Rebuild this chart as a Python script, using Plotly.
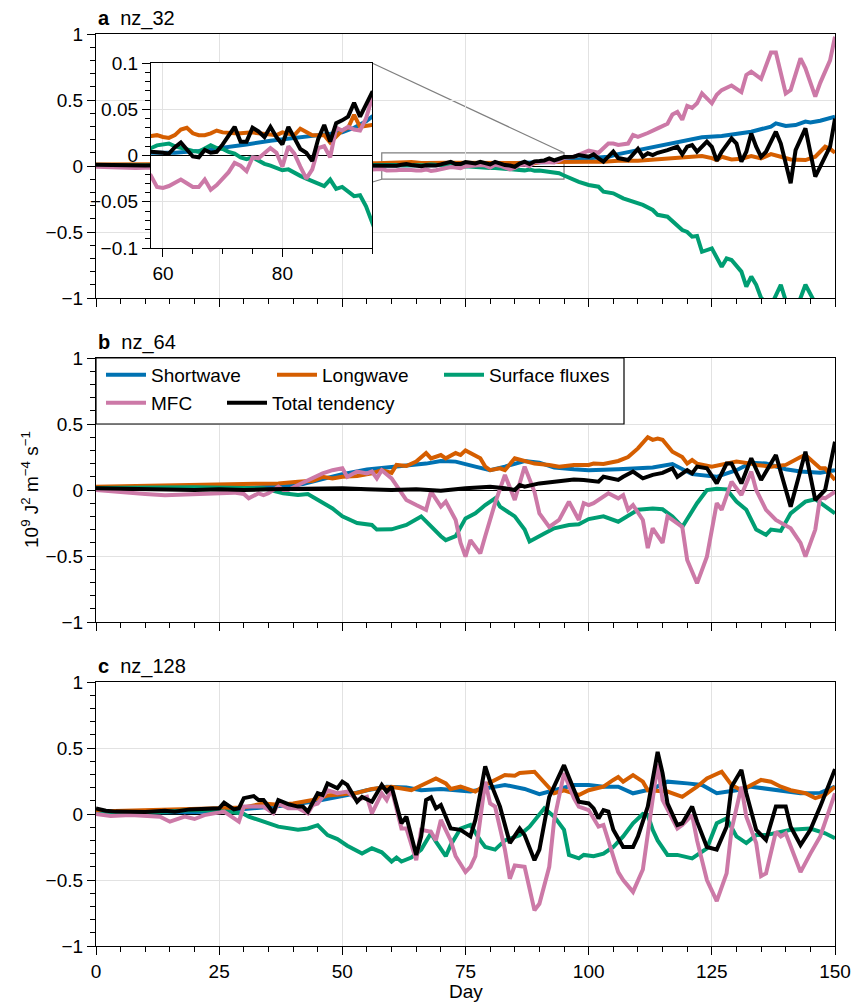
import plotly.graph_objects as go

# ---------------- data ----------------
series_names = ["Shortwave", "Longwave", "Surface fluxes", "MFC", "Total tendency"]
series_colors = ["#0072B2", "#D55E00", "#009E73", "#CC79A7", "#000000"]
panel_titles = ["nz_32", "nz_64", "nz_128"]
panel_letters = ["a", "b", "c"]
x_ticks = [0, 25, 50, 75, 100, 125, 150]
y_ticks = [-1, -0.5, 0, 0.5, 1]
inset_x_ticks = [60, 80]
inset_y_ticks = [-0.1, -0.05, 0, 0.05, 0.1]
inset_days = [58, 95]
inset_vals = [-0.1, 0.1]

# ---- panel a (nz_32) ----
a_sw_day = [0, 10, 20, 30, 40, 50, 58, 62, 66, 70, 74, 78, 82, 86, 90, 92, 94, 95, 97, 100, 104, 106, 110, 113, 117,
            120, 123, 127, 130, 133, 137, 138, 140, 142, 144, 145, 147, 150]
a_sw_val = [0.0, 0.0, 0.0, 0.001, 0.002, 0.002, 0.003, 0.003, 0.005, 0.008, 0.012, 0.016, 0.019, 0.021, 0.025, 0.03,
            0.037, 0.042, 0.045, 0.058, 0.07, 0.09, 0.12, 0.146, 0.17, 0.197, 0.217, 0.227, 0.247, 0.26, 0.298, 0.323,
            0.303, 0.31, 0.336, 0.33, 0.343, 0.374]

a_lw_day = [0, 10, 20, 30, 40, 50, 57] + list(range(58, 96)) + [97, 100, 103, 106, 110, 113, 117, 120, 123, 125, 126,
                                                                127, 129, 131, 133, 135, 137, 139, 141, 144, 146, 148,
                                                                149, 150]
a_lw_val = [0.012, 0.015, 0.018, 0.02, 0.02, 0.021, 0.02,
            0.021, 0.022, 0.020, 0.019, 0.022, 0.028, 0.030, 0.024, 0.022, 0.022, 0.024, 0.027, 0.025, 0.024, 0.024,
            0.024, 0.025, 0.025, 0.024, 0.023, 0.023, 0.022, 0.025, 0.024, 0.022, 0.029, 0.026, 0.022, 0.022, 0.022,
            0.014, 0.021, 0.027, 0.030, 0.044, 0.031, 0.032, 0.033,
            0.033, 0.033, 0.033, 0.04, 0.04, 0.05, 0.058, 0.07, 0.076, 0.06, 0.045, 0.07, 0.05, 0.055, 0.076, 0.058,
            0.09, 0.07, 0.05, 0.045, 0.07, 0.146, 0.13, 0.1]

a_sf_day = [0, 10, 20, 30, 40, 50, 57] + list(range(58, 96)) + [96, 98, 100, 102, 103, 105, 107, 109, 111, 113, 114,
                                                                116, 117, 119, 120, 121, 122, 123, 125, 127, 128, 129,
                                                                131, 132, 133, 134, 135, 137, 139, 140, 142, 144, 146,
                                                                148, 150]
a_sf_val = [0.003, 0.005, 0.005, 0.006, 0.006, 0.007, 0.007,
            0.008, 0.011, 0.012, 0.013, 0.010, 0.008, 0.006, 0.005, 0.004, 0.007, 0.011, 0.008, 0.007, 0.004, 0.002,
            -0.002, -0.004, -0.002, -0.006, -0.009, -0.011, -0.014, -0.016, -0.015, -0.019, -0.022, -0.025, -0.028,
            -0.031, -0.033, -0.026, -0.036, -0.034, -0.039, -0.044, -0.043, -0.055, -0.072,
            -0.09, -0.12, -0.144, -0.157, -0.194, -0.207, -0.245, -0.27, -0.295, -0.333, -0.37, -0.384, -0.42, -0.485,
            -0.5, -0.535, -0.53, -0.65, -0.624, -0.763, -0.7, -0.712, -0.8, -0.914, -0.838, -0.9, -1.0, -1.06, -0.9,
            -1.02, -1.1, -0.9, -1.04, -1.15, -1.2]

a_mfc_day = [0, 4, 8, 12, 16, 20, 25, 30, 35, 40, 45, 50, 54, 57] + list(range(58, 96)) + [
    97, 100, 101, 102, 104, 105, 106, 108, 109, 110, 112, 113, 114, 116, 117, 118, 119, 120, 121, 122, 123, 125, 126,
    127, 128, 129, 131, 132, 133, 135, 137, 138, 140, 141, 143, 144, 146, 147, 149, 150]
a_mfc_val = [-0.005, -0.01, -0.015, -0.012, -0.02, -0.018, -0.022, -0.02, -0.025, -0.022, -0.028, -0.025, -0.03, -0.025,
             -0.022, -0.034, -0.035, -0.033, -0.029, -0.026, -0.030, -0.034, -0.034, -0.026, -0.037, -0.032, -0.025,
             -0.018, -0.008, -0.011, -0.017, -0.002, -0.003, 0.003, 0.008, 0.003, -0.012, 0.010, 0.002, -0.012,
             -0.025, -0.015, 0.008, 0.010, -0.002, 0.030, 0.027, 0.031, 0.028, 0.027, 0.040, 0.062,
             0.07, 0.116, 0.11, 0.1, 0.17, 0.17, 0.16, 0.17, 0.235, 0.22, 0.25, 0.27, 0.285, 0.32, 0.39, 0.41, 0.35,
             0.455, 0.44, 0.475, 0.55, 0.475, 0.54, 0.575, 0.59, 0.61, 0.56, 0.69, 0.715, 0.66, 0.86, 0.86, 0.55,
             0.575, 0.815, 0.74, 0.525, 0.63, 0.8, 0.98]

a_tot_day = [0, 3, 6, 10, 14, 18, 22, 26, 30, 34, 38, 42, 46, 50, 54, 57] + list(range(58, 96)) + [
    97, 98, 100, 101, 102, 103, 105, 106, 108, 110, 111, 112, 113, 114, 116, 117, 118, 119, 120, 121, 122, 124, 125,
    126, 127, 129, 130, 131, 132, 133, 134, 135, 136, 138, 139, 141, 142, 144, 146, 147, 149, 150]
a_tot_val = [0.01, 0.006, 0.005, 0.004, 0.006, 0.004, 0.008, 0.004, 0.006, 0.002, 0.008, 0.006, 0.004, 0.005, 0.003,
             0.005,
             0.004, 0.004, 0.003, 0.002, 0.009, 0.014, 0.007, -0.001, -0.002, 0.006, 0.003, 0.004, 0.012, 0.022,
             0.031, 0.015, 0.015, 0.030, 0.026, 0.020, 0.031, 0.020, 0.012, 0.031, 0.018, 0.007, 0.003, -0.006,
             0.018, 0.033, 0.015, 0.035, 0.038, 0.042, 0.057, 0.042, 0.055, 0.068,
             0.07, 0.083, 0.07, 0.088, 0.058, 0.033, 0.11, 0.06, 0.045, 0.13, 0.07, 0.096, 0.083, 0.1, 0.12, 0.13,
             0.146, 0.088, 0.146, 0.159, 0.108, 0.184, 0.146, 0.04, 0.108, 0.21, 0.17, 0.033, 0.108, 0.247, 0.146,
             0.07, 0.108, 0.26, 0.17, -0.13, 0.12, 0.285, -0.08, -0.005, 0.146, 0.36]

# ---- panel b (nz_64) ----
b_sw_day = [0, 10, 20, 30, 34, 38, 42, 46, 50, 55, 60, 64, 67, 70, 73, 77, 80, 83, 87, 90, 93, 97, 100, 106, 113, 117,
            121, 126, 130, 133, 136, 140, 143, 147, 150]
b_sw_val = [0.02, 0.015, 0.013, 0.015, 0.02, 0.03, 0.045, 0.08, 0.12, 0.155, 0.175, 0.19, 0.2, 0.22, 0.215, 0.177,
            0.15, 0.177, 0.22, 0.207, 0.17, 0.157, 0.15, 0.157, 0.17, 0.197, 0.12, 0.1, 0.15, 0.207, 0.2, 0.157, 0.14,
            0.13, 0.15]

b_lw_day = [0, 7, 14, 21, 28, 34, 37, 41, 44, 46, 48, 50, 53, 56, 58, 60, 61, 63, 65, 67, 68, 70, 71, 73, 74, 75, 77,
            78, 79, 80, 82, 83, 85, 87, 89, 92, 94, 97, 100, 101, 103, 106, 108, 110, 112, 113, 114, 115, 117, 119,
            120, 121, 122, 125, 128, 130, 133, 134, 137, 140, 143, 144, 147, 148, 150]
b_lw_val = [0.025, 0.03, 0.038, 0.04, 0.045, 0.05, 0.05, 0.063, 0.07, 0.1, 0.088, 0.1, 0.106, 0.126, 0.15, 0.13, 0.19,
            0.182, 0.215, 0.28, 0.24, 0.265, 0.24, 0.28, 0.265, 0.3, 0.265, 0.24, 0.177, 0.15, 0.164, 0.15, 0.24,
            0.222, 0.2, 0.19, 0.177, 0.19, 0.19, 0.2, 0.197, 0.22, 0.25, 0.315, 0.4, 0.38, 0.39, 0.38, 0.29, 0.25, 0.2,
            0.227, 0.2, 0.177, 0.2, 0.215, 0.2, 0.19, 0.177, 0.19, 0.25, 0.265, 0.164, 0.164, 0.076]

b_sf_day = [0, 10, 20, 30, 34, 38, 41, 43, 45, 48, 50, 53, 56, 57, 60, 63, 66, 68, 70, 71, 73, 75, 77, 79, 81, 82, 85,
            87, 88, 91, 93, 96, 98, 100, 103, 106, 110, 113, 115, 117, 119, 122, 124, 126, 128, 130, 132, 134, 136,
            137, 139, 141, 144, 146, 148, 150]
b_sf_val = [0.015, 0.02, 0.02, 0.015, 0.013, -0.025, -0.038, -0.03, -0.076, -0.14, -0.2, -0.25, -0.265, -0.3, -0.298,
            -0.265, -0.2, -0.28, -0.35, -0.38, -0.35, -0.215, -0.177, -0.114, -0.063, -0.126, -0.2, -0.3, -0.39,
            -0.33, -0.29, -0.265, -0.26, -0.22, -0.2, -0.24, -0.15, -0.14, -0.146, -0.2, -0.28, -0.1, 0.0, 0.01, 0.005,
            -0.088, -0.15, -0.3, -0.34, -0.3, -0.31, -0.177, -0.088, -0.07, -0.126, -0.177]

b_mfc_day = [0, 3, 7, 10, 14, 18, 21, 25, 28, 30, 31, 33, 34, 35, 37, 38, 39, 41, 43, 46, 48, 50, 51, 53, 55, 56, 57,
             58, 60, 62, 63, 65, 67, 68, 70, 71, 73, 74, 75, 76, 78, 79, 81, 83, 85, 87, 89, 90, 92, 94, 96, 98, 99,
             100, 101, 104, 106, 107, 108, 109, 111, 112, 113, 115, 116, 117, 119, 120, 122, 124, 126, 127, 129, 131,
             133, 134, 136, 138, 141, 143, 144, 146, 147, 148, 150]
b_mfc_val = [0.0, -0.01, -0.025, -0.03, -0.04, -0.035, -0.025, -0.02, -0.02, -0.03, -0.063, -0.025, -0.038, -0.025,
             0.025, 0.0, 0.0, 0.038, 0.076, 0.126, 0.15, 0.165, 0.1, 0.14, 0.126, 0.14, 0.088, 0.15, 0.088, -0.025,
             -0.076, -0.114, -0.15, -0.013, -0.126, -0.088, -0.227, -0.4, -0.505, -0.38, -0.48, -0.35, -0.1, 0.114,
             -0.076, 0.177, -0.013, -0.177, -0.28, -0.227, -0.088, -0.227, -0.1, -0.114, -0.1, -0.025, -0.063, -0.038,
             -0.15, -0.114, -0.227, -0.44, -0.29, -0.4, -0.2, -0.227, -0.28, -0.53, -0.707, -0.505, -0.1, -0.15, 0.063,
             -0.038, 0.139, 0.0, -0.15, -0.227, -0.29, -0.4, -0.505, -0.3, -0.05, -0.063, -0.013]

b_tot_day = [0, 5, 10, 15, 20, 25, 30, 35, 40, 45, 50, 55, 60, 65, 70, 75, 80, 83, 85, 86, 87, 90, 93, 97, 99, 102,
             103, 106, 107, 109, 111, 113, 115, 117, 118, 120, 121, 122, 124, 126, 128, 129, 131, 133, 135, 138, 141,
             144, 146, 148, 150]
b_tot_val = [0.013, 0.01, 0.005, 0.008, 0.0, 0.005, 0.0, 0.005, 0.008, 0.005, 0.013, 0.005, 0.0, 0.005, -0.005, 0.013,
             0.025, 0.013, 0.0, 0.038, 0.025, 0.05, 0.063, 0.08, 0.076, 0.063, 0.1, 0.076, 0.1, 0.14, 0.088, 0.115,
             0.13, 0.164, 0.1, 0.15, 0.126, 0.177, 0.165, 0.05, 0.2, 0.2, 0.05, 0.24, 0.076, 0.265, -0.126, 0.29,
             -0.076, 0.0, 0.366]

# ---- panel c (nz_128) ----
c_sw_day = [0, 10, 20, 25, 30, 35, 40, 45, 48, 51, 55, 59, 63, 66, 70, 73, 76, 80, 83, 87, 90, 93, 97, 100, 103, 106,
            109, 113, 116, 120, 123, 126, 130, 133, 136, 140, 143, 147, 150]
c_sw_val = [0.01, 0.01, 0.015, 0.02, 0.035, 0.05, 0.07, 0.1, 0.12, 0.144, 0.18, 0.207, 0.2, 0.18, 0.19, 0.18, 0.17,
            0.2, 0.22, 0.19, 0.15, 0.18, 0.22, 0.22, 0.207, 0.207, 0.157, 0.19, 0.245, 0.232, 0.22, 0.157, 0.18, 0.207,
            0.19, 0.17, 0.157, 0.16, 0.207]

c_lw_day = [0, 10, 20, 25, 30, 34, 37, 40, 44, 47, 50, 53, 56, 60, 64, 67, 69, 71, 72, 74, 77, 79, 81, 83, 85, 86, 89,
            90, 92, 93, 95, 97, 98, 100, 103, 105, 106, 107, 109, 111, 112, 116, 119, 122, 124, 127, 129, 131, 135,
            137, 139, 141, 144, 146, 148, 150]
c_lw_val = [0.018, 0.025, 0.035, 0.043, 0.05, 0.08, 0.07, 0.08, 0.106, 0.14, 0.15, 0.16, 0.19, 0.207, 0.18, 0.232,
            0.27, 0.232, 0.19, 0.207, 0.17, 0.22, 0.258, 0.295, 0.29, 0.31, 0.32, 0.28, 0.207, 0.157, 0.18, 0.157,
            0.144, 0.18, 0.207, 0.258, 0.28, 0.245, 0.295, 0.245, 0.18, 0.17, 0.13, 0.207, 0.27, 0.32, 0.22, 0.18,
            0.258, 0.245, 0.207, 0.18, 0.157, 0.12, 0.144, 0.207]

c_sf_day = [0, 10, 20, 27, 30, 31, 33, 35, 37, 41, 43, 45, 47, 49, 51, 54, 56, 58, 60, 61, 62, 64, 66, 68, 69, 71, 72,
            74, 76, 78, 79, 81, 83, 86, 88, 91, 93, 95, 96, 98, 99, 101, 103, 105, 107, 109, 111, 112, 113, 114, 116,
            118, 121, 124, 126, 128, 130, 132, 134, 136, 138, 141, 145, 148, 150]
c_sf_val = [0.0, 0.01, 0.03, 0.018, 0.0, -0.02, -0.045, -0.07, -0.096, -0.12, -0.11, -0.085, -0.16, -0.19, -0.24,
            -0.3, -0.26, -0.29, -0.36, -0.33, -0.36, -0.33, -0.27, -0.146, -0.21, -0.32, -0.235, -0.11, -0.083, -0.2,
            -0.25, -0.27, -0.2, -0.16, -0.096, 0.043, -0.02, -0.12, -0.31, -0.336, -0.31, -0.32, -0.3, -0.25, -0.17,
            -0.07, 0.0, -0.008, -0.12, -0.2, -0.31, -0.31, -0.336, -0.26, -0.07, -0.033, -0.17, -0.22, -0.16, -0.16,
            -0.146, -0.12, -0.11, -0.146, -0.184]

c_mfc_day = [0, 3, 7, 10, 13, 15, 18, 20, 22, 26, 29, 30, 34, 36, 37, 39, 41, 43, 44, 45, 47, 49, 51, 53, 55, 56, 58,
             59, 60, 62, 63, 65, 66, 68, 69, 70, 72, 73, 75, 76, 77, 79, 80, 81, 83, 84, 85, 87, 89, 90, 92, 93, 95,
             97, 98, 100, 102, 103, 104, 106, 107, 109, 111, 112, 114, 115, 117, 118, 119, 121, 122, 124, 126, 128,
             129, 131, 132, 134, 135, 136, 138, 139, 140, 143, 145, 147, 150]
c_mfc_val = [0.0, -0.015, -0.008, -0.015, -0.02, -0.058, -0.02, -0.038, -0.008, 0.018, -0.058, 0.056, 0.056, 0.005,
             0.08, 0.043, 0.043, 0.005, 0.068, 0.08, 0.18, 0.157, 0.17, 0.106, 0.13, 0.005, 0.157, 0.106, 0.19, -0.11,
             -0.11, -0.35, -0.12, -0.134, -0.2, -0.045, -0.2, -0.32, -0.44, -0.4, -0.32, 0.245, 0.08, 0.056, -0.27,
             -0.49, -0.39, -0.4, -0.73, -0.68, -0.4, -0.045, 0.31, 0.12, 0.056, 0.03, -0.096, -0.083, -0.2, -0.44,
             -0.5, -0.59, -0.42, -0.146, 0.38, 0.106, -0.045, -0.11, -0.083, -0.008, -0.2, -0.5, -0.66, -0.45, -0.12,
             0.207, -0.02, -0.22, -0.47, -0.45, -0.134, -0.17, -0.146, -0.44, -0.3, -0.17, 0.157]

c_tot_day = [0, 2, 4, 7, 10, 14, 16, 19, 22, 25, 26, 28, 29, 30, 32, 33, 34, 36, 37, 39, 41, 42, 43, 45, 46, 47, 49,
             50, 51, 53, 54, 56, 58, 59, 60, 62, 63, 65, 66, 67, 68, 69, 70, 72, 74, 76, 77, 79, 80, 82, 84, 86, 87,
             89, 90, 92, 95, 96, 98, 100, 101, 102, 103, 104, 105, 107, 109, 110, 112, 114, 115, 116, 118, 119, 121,
             122, 124, 126, 128, 129, 131, 132, 134, 136, 138, 140, 141, 143, 145, 147, 150]
c_tot_val = [0.043, 0.025, 0.018, 0.018, 0.015, 0.025, 0.018, 0.035, 0.04, 0.043, 0.086, 0.035, 0.043, 0.12, 0.136,
             0.106, 0.106, 0.01, 0.106, 0.075, 0.056, 0.056, 0.018, 0.157, 0.144, 0.232, 0.195, 0.245, 0.22, 0.093,
             0.13, 0.093, 0.22, 0.169, 0.207, -0.07, -0.02, -0.31, -0.17, 0.106, 0.126, 0.043, 0.068, -0.11, -0.12,
             -0.17, -0.045, 0.36, 0.245, 0.056, -0.22, -0.11, -0.16, -0.35, -0.27, 0.13, 0.37, 0.28, 0.093, 0.08,
             0.043, -0.033, 0.03, 0.018, -0.12, -0.25, -0.25, -0.17, 0.056, 0.47, 0.31, 0.08, -0.083, -0.07, 0.056,
             -0.058, -0.25, -0.27, -0.096, 0.207, 0.333, 0.157, -0.12, -0.197, 0.056, 0.056, -0.096, -0.235, -0.12,
             0.056, 0.34]

panels = [
    [(a_sw_day, a_sw_val), (a_lw_day, a_lw_val), (a_sf_day, a_sf_val), (a_mfc_day, a_mfc_val), (a_tot_day, a_tot_val)],
    [(b_sw_day, b_sw_val), (b_lw_day, b_lw_val), (b_sf_day, b_sf_val), (b_mfc_day, b_mfc_val), (b_tot_day, b_tot_val)],
    [(c_sw_day, c_sw_val), (c_lw_day, c_lw_val), (c_sf_day, c_sf_val), (c_mfc_day, c_mfc_val), (c_tot_day, c_tot_val)],
]

# ---------------- layout constants ----------------
W, H = 857, 1003
ML, MR, MT, MB = 96, 22, 34, 57
PH = H - MT - MB
FONT = "Liberation Sans, Arial, Helvetica, sans-serif"
FS = 19
LW = 4
GRID = "#e2e2e2"
LEG_SYM = 40

def py2paper(py):
    return (H - MB - py) / PH

px_w = W - ML - MR
def px2paper(px):
    return (px - ML) / px_w

dom_a = [py2paper(298), 1.0]
dom_b = [py2paper(622), py2paper(358)]
dom_c = [0.0, py2paper(682)]
domains = [dom_a, dom_b, dom_c]
inset_xdom = [px2paper(151), px2paper(372)]
inset_ydom = [py2paper(248), py2paper(63)]

fig = go.Figure()

legend_assign = ["legend", "legend", "legend", "legend2", "legend2"]
legend_widths = [116, 112, None, 66, None]

for p, series in enumerate(panels):
    ax = "" if p == 0 else str(p + 1)
    for s, (d, v) in enumerate(series):
        kw = {}
        if p == 1:
            kw["legend"] = legend_assign[s]
            if legend_widths[s] is not None:
                kw["legendwidth"] = legend_widths[s]
        fig.add_trace(go.Scatter(
            x=d, y=v, mode="lines", name=series_names[s],
            line=dict(color=series_colors[s], width=LW),
            xaxis="x" + ax, yaxis="y" + ax,
            showlegend=(p == 1), hoverinfo="skip", **kw))

# inset traces (same data as panel a)
for s, (d, v) in enumerate(panels[0]):
    fig.add_trace(go.Scatter(
        x=d, y=v, mode="lines", name=series_names[s],
        line=dict(color=series_colors[s], width=LW),
        xaxis="x4", yaxis="y4", showlegend=False, hoverinfo="skip"))

def xaxis_cfg(p):
    return dict(
        domain=[0, 1], anchor="y" + ("" if p == 0 else str(p + 1)), range=[0, 150], automargin=False,
        tickmode="array", tickvals=x_ticks, ticks="outside", ticklen=8, tickwidth=1.2, tickcolor="black",
        showticklabels=(p == 2), tickfont=dict(size=FS, color="black", family=FONT),
        showgrid=True, gridcolor=GRID, gridwidth=1, zeroline=False,
        showline=True, linecolor="black", linewidth=1.2, mirror=True,
        minor=dict(dtick=5, tick0=0, ticks="outside", ticklen=5, tickwidth=1.2, tickcolor="black", showgrid=False))

def yaxis_cfg(p):
    return dict(
        domain=domains[p], anchor="x" + ("" if p == 0 else str(p + 1)), range=[-1, 1], automargin=False,
        tickmode="array", tickvals=y_ticks, ticks="outside", ticklen=8, tickwidth=1.2, tickcolor="black",
        tickfont=dict(size=FS, color="black", family=FONT),
        showgrid=True, gridcolor=GRID, gridwidth=1,
        zeroline=True, zerolinecolor="black", zerolinewidth=1.2,
        showline=True, linecolor="black", linewidth=1.2, mirror=True,
        minor=dict(dtick=0.1, tick0=0, ticks="outside", ticklen=5, tickwidth=1.2, tickcolor="black", showgrid=False))

layout = dict(
    width=W, height=H, margin=dict(l=ML, r=MR, t=MT, b=MB, autoexpand=False),
    paper_bgcolor="white", plot_bgcolor="white",
    font=dict(family=FONT, size=FS, color="black"),
    legend=dict(x=px2paper(101), y=py2paper(375), xanchor="left", yanchor="middle", orientation="h",
                bgcolor="rgba(0,0,0,0)", borderwidth=0, font=dict(size=FS, family=FONT), itemwidth=LEG_SYM),
    legend2=dict(x=px2paper(101), y=py2paper(403), xanchor="left", yanchor="middle", orientation="h",
                 bgcolor="rgba(0,0,0,0)", borderwidth=0, font=dict(size=FS, family=FONT), itemwidth=LEG_SYM),
)
for p in range(3):
    ax = "" if p == 0 else str(p + 1)
    layout["xaxis" + ax] = xaxis_cfg(p)
    layout["yaxis" + ax] = yaxis_cfg(p)

layout["xaxis4"] = dict(
    domain=inset_xdom, anchor="y4", range=inset_days, automargin=False,
    tickmode="array", tickvals=inset_x_ticks, ticks="outside", ticklen=8, tickwidth=1.2, tickcolor="black",
    tickfont=dict(size=FS, color="black", family=FONT),
    showgrid=True, gridcolor=GRID, zeroline=False,
    showline=True, linecolor="black", linewidth=1.2, mirror=True,
    minor=dict(dtick=5, tick0=60, ticks="outside", ticklen=5, tickwidth=1.2, tickcolor="black", showgrid=False))
layout["yaxis4"] = dict(
    domain=inset_ydom, anchor="x4", range=inset_vals, automargin=False,
    tickmode="array", tickvals=inset_y_ticks, ticks="outside", ticklen=8, tickwidth=1.2, tickcolor="black",
    tickfont=dict(size=FS, color="black", family=FONT),
    showgrid=True, gridcolor=GRID,
    zeroline=True, zerolinecolor="black", zerolinewidth=1.2,
    showline=True, linecolor="black", linewidth=1.2, mirror=True,
    minor=dict(dtick=0.01, tick0=0, ticks="outside", ticklen=5, tickwidth=1.2, tickcolor="black", showgrid=False))

fig.update_layout(**layout)

shapes = []
# white background of inset (in the inset's own below-layer, above panel a)
shapes.append(dict(type="rect", xref="x4", yref="y4", x0=inset_days[0], x1=inset_days[1],
                   y0=inset_vals[0], y1=inset_vals[1], fillcolor="white", line=dict(width=0), layer="below"))
# zoom rectangle in panel a
shapes.append(dict(type="rect", xref="x", yref="y", x0=inset_days[0], x1=inset_days[1],
                   y0=inset_vals[0], y1=inset_vals[1], line=dict(color="#7f7f7f", width=1.2), layer="below"))
# connector lines
def a_paper(day, val):
    return day / 150.0, dom_a[0] + (val + 1) / 2 * (dom_a[1] - dom_a[0])
rx1, ry1 = a_paper(inset_days[1], inset_vals[1])
rx0, ry0 = a_paper(inset_days[0], inset_vals[0])
shapes.append(dict(type="line", xref="paper", yref="paper", x0=inset_xdom[1], y0=inset_ydom[1], x1=rx1, y1=ry1,
                   line=dict(color="#7f7f7f", width=1.2), layer="below"))
shapes.append(dict(type="line", xref="paper", yref="paper", x0=inset_xdom[0], y0=inset_ydom[0], x1=rx0, y1=ry0,
                   line=dict(color="#7f7f7f", width=1.2), layer="below"))
# legend frame in panel b
shapes.append(dict(type="rect", xref="x2 domain", yref="y2", x0=0, x1=px2paper(624), y0=0.5, y1=1,
                   fillcolor="white", line=dict(color="black", width=1.2), layer="above"))
fig.update_layout(shapes=shapes)

annotations = []
for p in range(3):
    annotations.append(dict(xref="paper", yref="paper", x=0, y=domains[p][1], xanchor="left", yanchor="bottom",
                            yshift=2, showarrow=False,
                            text="<b>" + panel_letters[p] + "</b>\u00a0\u00a0" + panel_titles[p],
                            font=dict(size=20, family=FONT, color="black")))
annotations.append(dict(xref="paper", yref="paper", x=px2paper(30), y=py2paper(490), xanchor="center",
                        yanchor="middle", textangle=-90, showarrow=False,
                        text="10<sup>9</sup> J<sup>2</sup> m<sup>\u22124</sup> s<sup>\u22121</sup>",
                        font=dict(size=FS, family=FONT, color="black")))
annotations.append(dict(xref="paper", yref="paper", x=0.5, y=py2paper(991), xanchor="center", yanchor="middle",
                        showarrow=False, text="Day", font=dict(size=FS, family=FONT, color="black")))
fig.update_layout(annotations=annotations)

fig.write_html("out.html", config={"displayModeBar": False},
               post_script="document.body.style.margin='0px';document.body.style.overflow='hidden';")
